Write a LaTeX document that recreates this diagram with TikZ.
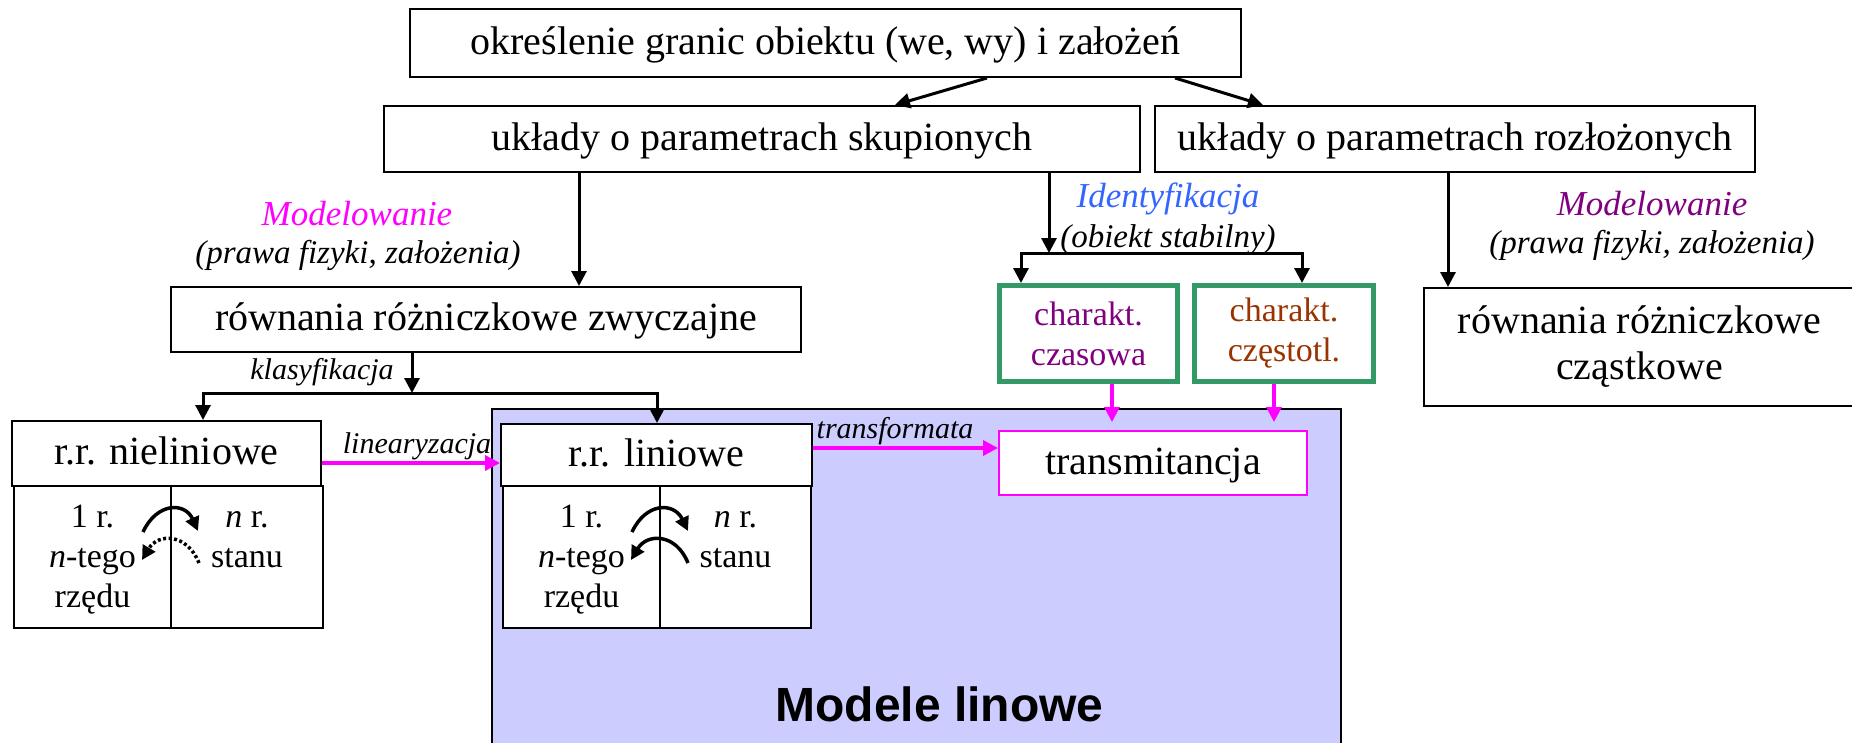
\documentclass[tikz,border=0pt]{standalone}
\usepackage{fontspec}
\setmainfont{Liberation Serif}
\newfontfamily\arialfont{Liberation Sans}
\usetikzlibrary{arrows.meta,calc}
\definecolor{mag}{RGB}{255,0,255}
\definecolor{purp}{RGB}{128,0,128}
\definecolor{brn}{RGB}{153,51,0}
\definecolor{idb}{RGB}{51,102,255}
\definecolor{gr}{RGB}{51,153,102}
\definecolor{bluefill}{RGB}{204,204,255}
\newcommand\fbig{\fontsize{40pt}{46pt}\selectfont}
\newcommand\fmid{\fontsize{34pt}{40pt}\selectfont}
\newcommand\flab{\fontsize{33pt}{38pt}\selectfont\itshape}
\newcommand\fmod{\fontsize{35pt}{40pt}\selectfont\itshape}
\newcommand\fsml{\fontsize{30pt}{34pt}\selectfont\itshape}
\newcommand\fml{\fontsize{48pt}{52pt}\selectfont\arialfont\bfseries}
\begin{document}
\begin{tikzpicture}[x=1pt,y=-1pt,
  box/.style={draw=black, line width=2pt, fill=white, inner sep=0pt, font=\fbig, text height=30pt, text depth=8pt},
  box2/.style={draw=black, line width=2pt, fill=white, inner sep=0pt, font=\fbig, align=center},
  cell/.style={draw=black, line width=2pt, fill=white, inner sep=0pt},
  gbox/.style={draw=gr, line width=5pt, fill=white, inner sep=0pt, font=\fmid, align=center},
  arr/.style={line width=3pt, line join=miter, -{Triangle[length=15pt,width=15pt]}},
  marr/.style={draw=mag, line width=3.5pt, -{Triangle[length=15pt,width=15pt]}},
  carr/.style={line width=3.5pt, -{Triangle[length=14pt,width=14pt]}},
  lab/.style={anchor=base, inner sep=0pt, font=\flab},
  txt/.style={anchor=base, inner sep=0pt, font=\fmid}
]
\useasboundingbox (0,0) rectangle (1852,742);
\clip (0,0) rectangle (1852,742);

% blue region of linear models
\node[draw=black, line width=2pt, fill=bluefill, inner sep=0pt, minimum width=849pt, minimum height=350pt, anchor=north west] (reg) at (491,408) {};

% main boxes
\node[box, minimum width=831pt, minimum height=68pt] (top) at (825.5,43) {określenie granic obiektu (we, wy) i założeń};
\node[box, minimum width=756pt, minimum height=66pt] (sk) at (762,139) {układy o parametrach skupionych};
\node[box, minimum width=600pt, minimum height=66pt] (roz) at (1455,139) {układy o parametrach rozłożonych};
\node[box, minimum width=630pt, minimum height=65pt] (zw) at (486,319.5) {równania różniczkowe zwyczajne};
\node[box2, minimum width=431pt, minimum height=118pt] (cz) at (1639.5,347) {równania różniczkowe\\cząstkowe};

\node[box, minimum width=309pt, minimum height=65pt] (nl) at (166.5,453.5) {r.r. nieliniowe};
\node[cell, minimum width=157pt, minimum height=142pt] (nla) at (92.5,557) {};
\node[cell, minimum width=152pt, minimum height=142pt] (nlb) at (247,557) {};

\node[box, minimum width=311pt, minimum height=62pt] (lin) at (656.5,455) {r.r. liniowe};
\node[cell, minimum width=157pt, minimum height=142pt] (lina) at (581.5,557) {};
\node[cell, minimum width=151pt, minimum height=142pt] (linb) at (735.5,557) {};

\node[box, draw=mag, minimum width=308pt, minimum height=64pt] (tr) at (1153,463) {transmitancja};

\node[gbox, text=purp, minimum width=178pt, minimum height=96pt] (g1) at (1088.5,333.5) {charakt.\\czasowa};
\node[gbox, text=brn, minimum width=179pt, minimum height=96pt] (g2) at (1284,333.5) {charakt.\\częstotl.};

% cell texts
\node[txt] (t1) at (92.5,527) {1 r.};
\node[txt] (t2) at (92.5,567) {\textit{n}-tego};
\node[txt] (t3) at (92.5,607) {rzędu};
\node[txt] (t4) at (247,527) {\textit{n} r.};
\node[txt] (t5) at (247,567) {stanu};
\node[txt] (t6) at (581.5,527) {1 r.};
\node[txt] (t7) at (581.5,567) {\textit{n}-tego};
\node[txt] (t8) at (581.5,607) {rzędu};
\node[txt] (t9) at (735.5,527) {\textit{n} r.};
\node[txt] (t10) at (735.5,567) {stanu};

% curved arrows in cells
\draw[carr] (143,532) .. controls (157,502) and (185,502) .. (198,531);
\draw[carr, dash pattern=on 3pt off 2.5pt] (199,563) .. controls (187,533) and (158,533) .. (142,560);
\draw[carr] (632,532) .. controls (646,502) and (674,502) .. (688,531);
\draw[carr] (688,563) .. controls (676,533) and (647,533) .. (631,560);

% labels
\node[lab, font=\fmod, text=mag] (mod1) at (357,225) {Modelowanie};
\node[lab] (praw1) at (358,263) {(prawa fizyki, założenia)};
\node[lab, font=\fsml] (klas) at (322,379) {klasyfikacja};
\node[lab, font=\fsml] (linz) at (417,453) {linearyzacja};
\node[lab, font=\fsml] (trf) at (895,438) {transformata};
\node[lab, font=\fmod, text=idb] (ident) at (1168,207) {Identyfikacja};
\node[lab] (obst) at (1168,247) {(obiekt stabilny)};
\node[lab, font=\fmod, text=purp] (mod2) at (1652,215) {Modelowanie};
\node[lab] (praw2) at (1652,253) {(prawa fizyki, założenia)};
\node[anchor=base, inner sep=0pt, font=\fml] (ml) at (939.5,721) {Modele linowe};

% black arrows
\coordinate (a1) at (987,0);
\coordinate (a2) at (895,0);
\coordinate (a3) at (1175,0);
\coordinate (a4) at (1263,0);
\draw[arr] (top.south -| a1) -- (sk.north -| a2);
\draw[arr] (top.south -| a3) -- (roz.north -| a4);

\coordinate (xsk) at (579,0);
\draw[arr] (sk.south -| xsk) -- (zw.north -| xsk);

\coordinate (b0) at (412,393);
\coordinate (bl) at (203,393);
\coordinate (br) at (657,393);
\draw[arr] (zw.south -| b0) -- (b0);
\draw[arr] (b0) -- (bl) -- (nl.north -| bl);
\draw[arr] (b0) -- (br) -- (lin.north -| br);

\coordinate (c0) at (1049,253);
\coordinate (cl) at (1021,253);
\coordinate (cr) at (1302,253);
\draw[arr] (sk.south -| c0) -- (c0);
\draw[arr] (c0) -- (cl) -- (g1.north -| cl);
\draw[arr] (c0) -- (cr) -- (g2.north -| cr);

\coordinate (xr) at (1448,0);
\draw[arr] (roz.south -| xr) -- (cz.north -| xr);

% magenta arrows
\coordinate (y1) at (0,463);
\coordinate (y2) at (0,448);
\draw[marr] (nl.east |- y1) -- (lin.west |- y1);
\draw[marr] (lin.east |- y2) -- (tr.west |- y2);
\coordinate (m1) at (1112,0);
\coordinate (m2) at (1274,0);
\draw[marr, shorten >=8pt] (g1.south -| m1) -- (tr.north -| m1);
\draw[marr, shorten >=8pt] (g2.south -| m2) -- (tr.north -| m2);
\end{tikzpicture}
\end{document}
